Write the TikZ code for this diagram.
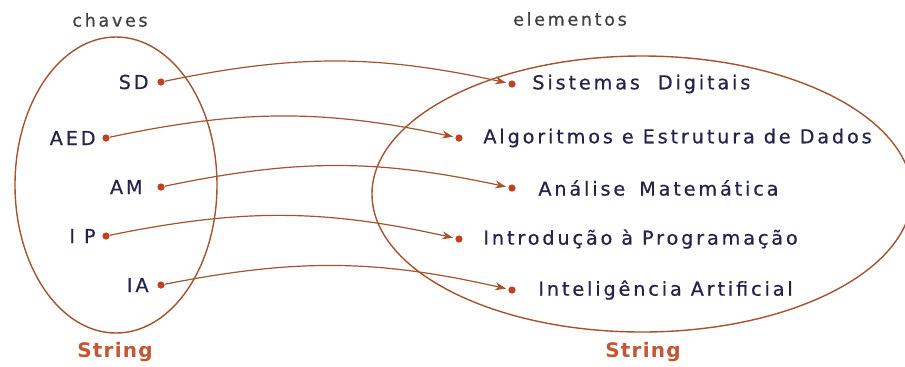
\documentclass[tikz,border=0pt]{standalone}
\usepackage{fontspec}
\setsansfont{DejaVu Sans}
\newfontfamily\spacedfont[LetterSpace=15,FakeBold=0.6]{DejaVu Sans}
\newfontfamily\boldfont[LetterSpace=6]{DejaVu Sans Bold}
\usepackage{xcolor}
\usetikzlibrary{arrows.meta,positioning}
\definecolor{linkbrown}{RGB}{165,82,45}
\definecolor{dotred}{RGB}{195,65,30}
\definecolor{textnavy}{RGB}{35,35,75}
\definecolor{stringbrown}{RGB}{192,88,52}

\begin{document}
\begin{tikzpicture}[x=0.5pt,y=-0.5pt,font=\sffamily,
  key/.style={font=\spacedfont\fontsize{9.6}{11}\selectfont, text=textnavy, inner sep=1pt},
  title/.style={font=\spacedfont\fontsize{8.8}{10}\selectfont, text=black!75},
  typename/.style={font=\boldfont\fontsize{10}{12}\selectfont, text=stringbrown},
  pin/.style={circle, fill=dotred, inner sep=0pt, minimum size=3.6pt},
  set/.style={draw=linkbrown, line width=0.7pt},
  link/.style={draw=linkbrown, line width=0.6pt, -{Stealth[length=5.5pt,width=4pt]}, shorten >=1pt}]
  \useasboundingbox (0,0) rectangle (905,366);

  % the two sets
  \draw[set] (116,185) ellipse [x radius=101, y radius=148];
  \draw[set] (642,194) ellipse [x radius=270, y radius=138];
  \node[title] (chaves) at (110,20) {chaves};
  \node[title] (elementos) at (570,19) {elementos};
  \node[typename] (keytype) at (115,352) {String};
  \node[typename] (valtype) at (643,352) {String};

  % keys, each with its dot
  \node[pin] (sdp) at (161,82) {};
  \node[key, left=3pt of sdp] (sd) {SD};
  \node[pin] (aedp) at (106,138) {};
  \node[key, left=2pt of aedp] (aed) {AED};
  \node[pin] (amp) at (161,187) {};
  \node[key, left=6pt of amp] (am) {AM};
  \node[pin] (ipp) at (106,236) {};
  \node[key, left=2pt of ipp] (ip) {I P};
  \node[pin] (iap) at (161,285) {};
  \node[key, left=3pt of iap] (ia) {IA};

  % values, each with its dot
  \node[pin] (sdq) at (512,84) {};
  \node[key, right=7pt of sdq] (sdv) {Sistemas\hspace{9pt}Digitais};
  \node[pin] (aedq) at (459,138) {};
  \node[key, right=9pt of aedq] (aedv) {Algoritmos e Estrutura de Dados};
  \node[pin] (amq) at (512,188) {};
  \node[key, right=10pt of amq] (amv) {Análise\hspace{7pt}Matemática};
  \node[pin] (ipq) at (459,239) {};
  \node[key, right=9pt of ipq] (ipv) {Introdução à Programação};
  \node[pin] (iaq) at (512,290) {};
  \node[key, right=10pt of iaq] (iav) {Inteligência Artificial};

  % mapping arrows
  \draw[link] (sdp) to[bend left=12] (sdq);
  \draw[link] (aedp) to[bend left=12] (aedq);
  \draw[link] (amp) to[bend left=12] (amq);
  \draw[link] (ipp) to[bend left=12] (ipq);
  \draw[link] (iap) to[bend left=12] (iaq);
\end{tikzpicture}
\end{document}
